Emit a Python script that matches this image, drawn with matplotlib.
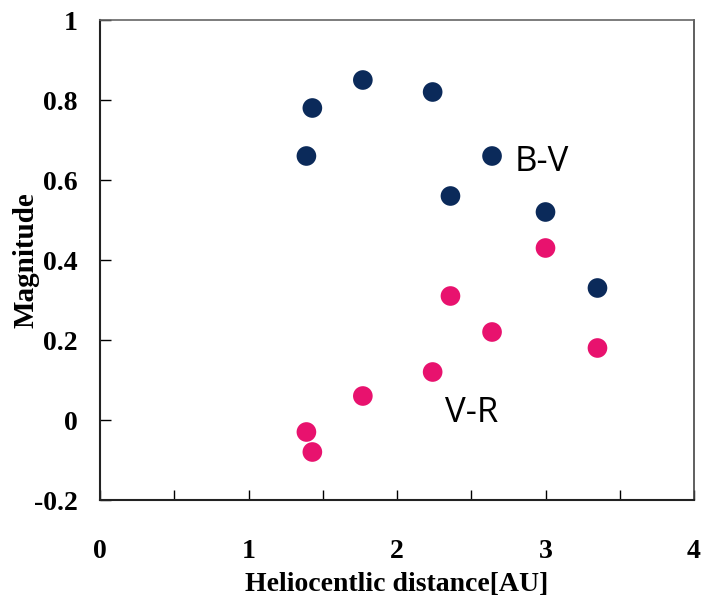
import matplotlib
matplotlib.use("Agg")
import matplotlib.pyplot as plt
from matplotlib.ticker import MultipleLocator

# heliocentric distance [AU]
dist = [1.39, 1.43, 1.77, 2.24, 2.36, 2.64, 3.0, 3.35]
# colours
bv = [0.66, 0.78, 0.85, 0.82, 0.56, 0.66, 0.52, 0.33]
vr = [-0.03, -0.08, 0.06, 0.12, 0.31, 0.22, 0.43, 0.18]

navy = "#0b2a5a"
pink = "#e8126e"

fig = plt.figure(figsize=(7.02, 6.03), dpi=100)
ax = fig.add_axes([100/702, 103/603, 594/702, 480/603])

ax.scatter(dist, bv, s=200, color=navy, edgecolors="none", zorder=3)
ax.scatter(dist, vr, s=200, color=pink, edgecolors="none", zorder=3)

ax.text(2.79, 0.645, "B-V", fontsize=25, family="Open Sans", va="center", ha="left")
ax.text(2.32, 0.018, "V-R", fontsize=25, family="Open Sans", va="center", ha="left")

ax.set_xlim(0, 4)
ax.set_ylim(-0.2, 1.0)
ax.set_xticks([0, 1, 2, 3, 4])
ax.xaxis.set_minor_locator(MultipleLocator(0.5))
ax.set_yticks([-0.2, 0, 0.2, 0.4, 0.6, 0.8, 1.0])
ax.set_yticklabels(["-0.2", "0", "0.2", "0.4", "0.6", "0.8", "1"])

ax.tick_params(axis="x", which="major", direction="in", length=7, width=1, pad=28)
ax.tick_params(axis="x", which="minor", direction="in", length=7, width=1)
ax.tick_params(axis="y", direction="in", length=8, width=1, pad=16)
for lab in ax.get_xticklabels() + ax.get_yticklabels():
    lab.set_fontfamily("Liberation Serif")
    lab.set_fontweight("bold")
    lab.set_fontsize(20)

ax.set_xlabel("Heliocentlic distance[AU]", family="Liberation Serif", fontweight="bold",
              fontsize=20, va="center")
ax.set_ylabel("Magnitude", family="Liberation Serif", fontweight="bold", fontsize=21, va="center")
ax.xaxis.set_label_coords(0.5, -0.177)
ax.yaxis.set_label_coords(-0.125, 0.5)

for side in ["left", "bottom"]:
    ax.spines[side].set_linewidth(1.5)
    ax.spines[side].set_color("#222222")
ax.spines["top"].set_color("#666666")
ax.spines["right"].set_color("#444444")
ax.spines["top"].set_linewidth(1.2)
ax.spines["right"].set_linewidth(1.2)

fig.savefig("out.png", dpi=100)
